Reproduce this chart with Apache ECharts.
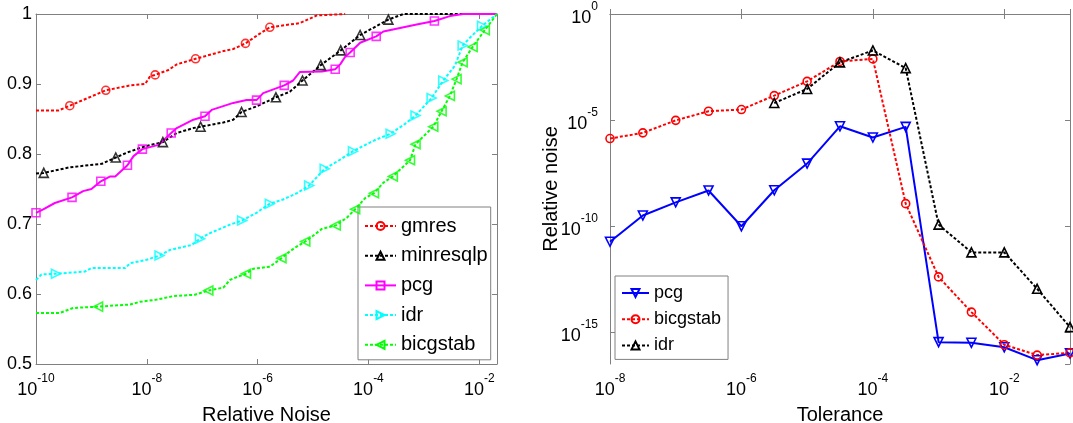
<!DOCTYPE html>
<html>
<head>
<meta charset="utf-8">
<title>Relative noise</title>
<script src="https://cdn.jsdelivr.net/npm/echarts@6/dist/echarts.min.js"></script>
<style>
  * { margin: 0; padding: 0; }
  #main { width: 1073px; height: 423px; }
</style>
</head>
<body>
<div id="main"></div>
<script>
// ---- left panel: [log10(relative noise), fraction] ----
var gmresCurve = [[-10,0.862],[-9.60,0.862],[-9.39,0.869],[-8.74,0.891],[-8.30,0.898],[-8.03,0.900],[-7.94,0.911],[-7.85,0.913],[-7.61,0.920],[-7.46,0.928],[-7.12,0.936],[-6.62,0.947],[-6.44,0.950],[-6.22,0.958],[-5.96,0.972],[-5.78,0.981],[-5.24,0.987],[-4.93,0.998],[-4.91,1.0],[-4.42,1.0]];
var gmresMarks = [[-9.39,0.869],[-8.74,0.891],[-7.85,0.913],[-7.12,0.936],[-6.22,0.958],[-5.78,0.981]];

var minresCurve = [[-10,0.772],[-9.86,0.773],[-9.39,0.781],[-8.81,0.786],[-8.56,0.795],[-8.36,0.802],[-8.03,0.811],[-7.71,0.817],[-7.46,0.830],[-7.16,0.837],[-7.03,0.839],[-6.62,0.845],[-6.44,0.849],[-6.29,0.860],[-6.02,0.868],[-5.67,0.881],[-5.42,0.889],[-5.19,0.905],[-4.86,0.927],[-4.50,0.948],[-4.15,0.970],[-3.64,0.992],[-3.37,1.0],[-1.68,1.0]];
var minresMarks = [[-9.86,0.773],[-8.56,0.795],[-7.71,0.817],[-7.03,0.839],[-6.29,0.860],[-5.67,0.881],[-5.19,0.905],[-4.86,0.927],[-4.50,0.948],[-4.15,0.970],[-3.64,0.992]];

var pcgCurve = [[-10,0.716],[-9.87,0.721],[-9.66,0.730],[-9.35,0.738],[-9.15,0.747],[-9.00,0.750],[-8.83,0.761],[-8.66,0.768],[-8.57,0.768],[-8.35,0.784],[-8.24,0.797],[-8.08,0.807],[-7.79,0.813],[-7.56,0.830],[-7.46,0.837],[-7.16,0.849],[-6.95,0.854],[-6.83,0.863],[-6.44,0.873],[-6.20,0.877],[-6.02,0.877],[-5.90,0.887],[-5.52,0.898],[-5.36,0.905],[-5.24,0.917],[-4.84,0.918],[-4.60,0.921],[-4.51,0.928],[-4.42,0.939],[-4.33,0.945],[-4.15,0.959],[-3.86,0.968],[-3.73,0.975],[-3.13,0.985],[-2.81,0.990],[-2.53,0.997],[-2.29,1.0],[-1.68,1.0]];
var pcgMarks = [[-10,0.716],[-9.35,0.738],[-8.83,0.761],[-8.35,0.784],[-8.08,0.807],[-7.56,0.830],[-6.95,0.854],[-6.02,0.877],[-5.52,0.898],[-4.60,0.921],[-4.33,0.945],[-3.86,0.968],[-2.81,0.990]];

var idrCurve = [[-10,0.620],[-9.90,0.628],[-9.64,0.629],[-9.12,0.632],[-9.00,0.637],[-8.39,0.637],[-8.30,0.644],[-8.00,0.649],[-7.77,0.655],[-7.58,0.663],[-7.19,0.670],[-7.04,0.679],[-6.86,0.687],[-6.50,0.699],[-6.28,0.705],[-6.02,0.716],[-5.78,0.729],[-5.54,0.735],[-5.29,0.744],[-5.07,0.755],[-4.79,0.779],[-4.51,0.792],[-4.28,0.804],[-3.88,0.820],[-3.60,0.829],[-3.34,0.843],[-3.15,0.855],[-2.86,0.880],[-2.65,0.905],[-2.44,0.926],[-2.30,0.955],[-2.17,0.966],[-1.95,0.983],[-1.68,1.0]];
var idrMarks = [[-9.64,0.629],[-7.77,0.655],[-7.04,0.679],[-6.28,0.705],[-5.78,0.729],[-5.07,0.755],[-4.79,0.779],[-4.28,0.804],[-3.60,0.829],[-3.15,0.855],[-2.86,0.880],[-2.65,0.905],[-2.30,0.955],[-1.95,0.983]];

var bicgCurve = [[-10,0.573],[-9.57,0.573],[-9.33,0.580],[-8.88,0.582],[-8.30,0.585],[-8.12,0.589],[-7.82,0.592],[-7.52,0.597],[-7.13,0.599],[-6.89,0.605],[-6.62,0.609],[-6.50,0.620],[-6.35,0.625],[-6.21,0.629],[-6.08,0.636],[-5.78,0.639],[-5.57,0.651],[-5.42,0.661],[-5.29,0.668],[-5.14,0.675],[-5.02,0.682],[-4.84,0.693],[-4.59,0.698],[-4.39,0.709],[-4.24,0.721],[-4.06,0.737],[-3.90,0.744],[-3.73,0.759],[-3.56,0.768],[-3.25,0.791],[-3.15,0.814],[-2.83,0.839],[-2.68,0.861],[-2.53,0.883],[-2.41,0.907],[-2.30,0.931],[-2.12,0.953],[-1.90,0.977],[-1.68,1.0]];
var bicgMarks = [[-8.88,0.582],[-6.89,0.605],[-6.21,0.629],[-5.57,0.651],[-5.14,0.675],[-4.59,0.698],[-4.24,0.721],[-3.90,0.744],[-3.56,0.768],[-3.25,0.791],[-3.15,0.814],[-2.83,0.839],[-2.68,0.861],[-2.53,0.883],[-2.41,0.907],[-2.30,0.931],[-2.12,0.953],[-1.90,0.977]];

// ---- right panel: relative noise vs tolerance ----
var tolerances = [1e-8, 3.16e-8, 1e-7, 3.16e-7, 1e-6, 3.16e-6, 1e-5, 3.16e-5, 1e-4, 3.16e-4, 1e-3, 3.16e-3, 1e-2, 3.16e-2, 1e-1];
var pcgNoise = [1.78e-11, 3.09e-10, 1.29e-9, 4.68e-9, 9.55e-11, 4.79e-9, 8.71e-8, 5.01e-6, 1.48e-6, 4.68e-6, 3.24e-16, 3.02e-16, 1.86e-16, 4.57e-17, 9.55e-17];
var bicgstabNoise = [1.32e-6, 2.45e-6, 9.55e-6, 2.57e-5, 3.09e-5, 1.41e-4, 6.61e-4, 5.75e-3, 7.59e-3, 1.12e-9, 3.89e-13, 8.51e-15, 2.45e-16, 7.94e-17, 1.02e-16];
var idrNoise = [null, null, null, null, null, 6.3e-5, 2.9e-4, 5.2e-3, 1.9e-2, 2.8e-3, 1.15e-10, 5.6e-12, 5.6e-12, 1.07e-13, 1.66e-15];

var FONT = '"Liberation Sans", Arial, sans-serif';
var AX = '#808080';
var DOT = [3, 2];

function logPairs(xs, ys) {
  var out = [];
  for (var i = 0; i < xs.length; i++) {
    if (ys[i] != null) out.push([Math.log10(xs[i]), Math.log10(ys[i])]);
  }
  return out;
}

// "10" with a raised exponent
var expRich = {
  b: { fontSize: 18, fontFamily: FONT, color: '#000', verticalAlign: 'bottom', lineHeight: 22 },
  e: { fontSize: 12, fontFamily: FONT, color: '#000', verticalAlign: 'top', lineHeight: 12 },
  s: { lineHeight: 26, width: 0 }
};
function expLabel(step) {
  return function (v) {
    return Math.abs(v % step) < 1e-9 ? '{s|}{b|10}{e|' + Math.round(v) + '}' : '';
  };
}

function axisBase(grid, pos, min, max, extra) {
  var a = {
    gridIndex: grid, type: 'value', position: pos, min: min, max: max,
    axisLine: { show: true, lineStyle: { color: AX, width: 1 } },
    axisTick: { show: true, inside: true, length: 5, lineStyle: { color: AX } },
    axisLabel: { show: false },
    splitLine: { show: false }
  };
  for (var k in extra) a[k] = extra[k];
  return a;
}

function curve(name, data, color, solid) {
  return {
    name: name, type: 'line', xAxisIndex: 0, yAxisIndex: 0, data: data,
    showSymbol: false, z: 3,
    lineStyle: { color: color, width: 2, type: solid ? 'solid' : DOT }
  };
}
function marks(name, data, color, symbol, rotate, size) {
  return {
    name: name, type: 'scatter', xAxisIndex: 0, yAxisIndex: 0, data: data,
    symbol: symbol, symbolRotate: rotate, symbolSize: size, z: 4,
    itemStyle: { color: 'rgba(0,0,0,0)', borderColor: color, borderWidth: 1.6 }
  };
}
function tolLine(name, data, color, solid, symbol, rotate, size) {
  return {
    name: name, type: 'line', xAxisIndex: 2, yAxisIndex: 2, data: data,
    symbol: symbol, symbolRotate: rotate, symbolSize: size, showSymbol: true,
    lineStyle: { color: color, width: 2, type: solid ? 'solid' : DOT },
    itemStyle: { color: 'rgba(0,0,0,0)', borderColor: color, borderWidth: 1.6 }
  };
}

var chart = echarts.init(document.getElementById('main'));

var left = [
  curve('gmres', gmresCurve, '#ff0000'), marks('gmres', gmresMarks, '#ff0000', 'circle', 0, 8),
  curve('minresqlp', minresCurve, '#000000'), marks('minresqlp', minresMarks, '#000000', 'triangle', 0, 9),
  curve('pcg', pcgCurve, '#ff00ff', true), marks('pcg', pcgMarks, '#ff00ff', 'rect', 0, 8),
  curve('idr', idrCurve, '#00ffff'), marks('idr', idrMarks, '#00ffff', 'triangle', -90, 9),
  curve('bicgstab', bicgCurve, '#00ff00'), marks('bicgstab', bicgMarks, '#00ff00', 'triangle', 90, 9)
];
// legend icon takes the line series, so give it the marker symbol as well
var legendSym = [['circle', 0], ['triangle', 0], ['rect', 0], ['triangle', -90], ['triangle', 90]];
for (var i = 0; i < 5; i++) {
  left[i * 2].symbol = legendSym[i][0];
  left[i * 2].symbolRotate = legendSym[i][1];
  left[i * 2].itemStyle = { color: 'rgba(0,0,0,0)', borderColor: left[i * 2].lineStyle.color, borderWidth: 1.6 };
}

var right = [
  tolLine('pcg ', logPairs(tolerances, pcgNoise), '#0000ff', true, 'triangle', 180, 9),
  tolLine('bicgstab ', logPairs(tolerances, bicgstabNoise), '#ff0000', false, 'circle', 0, 8),
  tolLine('idr ', logPairs(tolerances, idrNoise), '#000000', false, 'triangle', 0, 9)
];

chart.setOption({
  animation: false,
  textStyle: { fontFamily: FONT },
  grid: [
    { left: 36, top: 14, width: 461, height: 350, outerBoundsMode: 'none' },
    { left: 610, top: 14, width: 460, height: 350, outerBoundsMode: 'none' }
  ],
  xAxis: [
    axisBase(0, 'bottom', -10, -1.68, {
      interval: 2,
      axisLabel: { show: true, margin: 9, formatter: expLabel(2), rich: expRich },
      name: 'Relative Noise', nameLocation: 'middle', nameGap: 41, nameMoveOverlap: false,
      nameTextStyle: { fontSize: 20, color: '#000', fontFamily: FONT }
    }),
    axisBase(0, 'top', -10, -1.68, { interval: 2 }),
    axisBase(1, 'bottom', -8, -1, {
      interval: 2,
      axisLabel: { show: true, margin: 9, formatter: expLabel(2), rich: expRich },
      name: 'Tolerance', nameLocation: 'middle', nameGap: 41, nameMoveOverlap: false,
      nameTextStyle: { fontSize: 20, color: '#000', fontFamily: FONT }
    }),
    axisBase(1, 'top', -8, -1, { interval: 2 })
  ],
  yAxis: [
    axisBase(0, 'left', 0.5, 1, {
      interval: 0.1,
      axisLabel: { show: true, margin: 4, fontSize: 18, color: '#000', fontFamily: FONT }
    }),
    axisBase(0, 'right', 0.5, 1, { interval: 0.1 }),
    axisBase(1, 'left', -16.52, 0, {
      splitNumber: 3,
      axisLabel: { show: true, margin: 12, showMinLabel: false, formatter: expLabel(5), rich: expRich },
      name: 'Relative noise', nameLocation: 'middle', nameGap: 49, nameMoveOverlap: false,
      nameTextStyle: { fontSize: 20, color: '#000', fontFamily: FONT }
    }),
    axisBase(1, 'right', -16.52, 0, { splitNumber: 3 })
  ],
  legend: [
    {
      data: ['gmres', 'minresqlp', 'pcg', 'idr', 'bicgstab'],
      orient: 'vertical', left: 358, top: 207,
      itemWidth: 31, itemHeight: 10, itemGap: 9.7,
      padding: [9, 3, 5, 6],
      backgroundColor: '#fff', borderColor: AX, borderWidth: 1, borderRadius: 0,
      textStyle: { fontSize: 20, color: '#000', fontFamily: FONT }
    },
    {
      data: ['pcg ', 'bicgstab ', 'idr '],
      orient: 'vertical', left: 615, top: 276,
      itemWidth: 27, itemHeight: 10, itemGap: 8.2,
      padding: [8, 7, 5, 6],
      formatter: function (n) { return n.trim(); },
      backgroundColor: '#fff', borderColor: AX, borderWidth: 1, borderRadius: 0,
      textStyle: { fontSize: 18, color: '#000', fontFamily: FONT }
    }
  ],
  series: left.concat(right)
});
</script>
</body>
</html>
